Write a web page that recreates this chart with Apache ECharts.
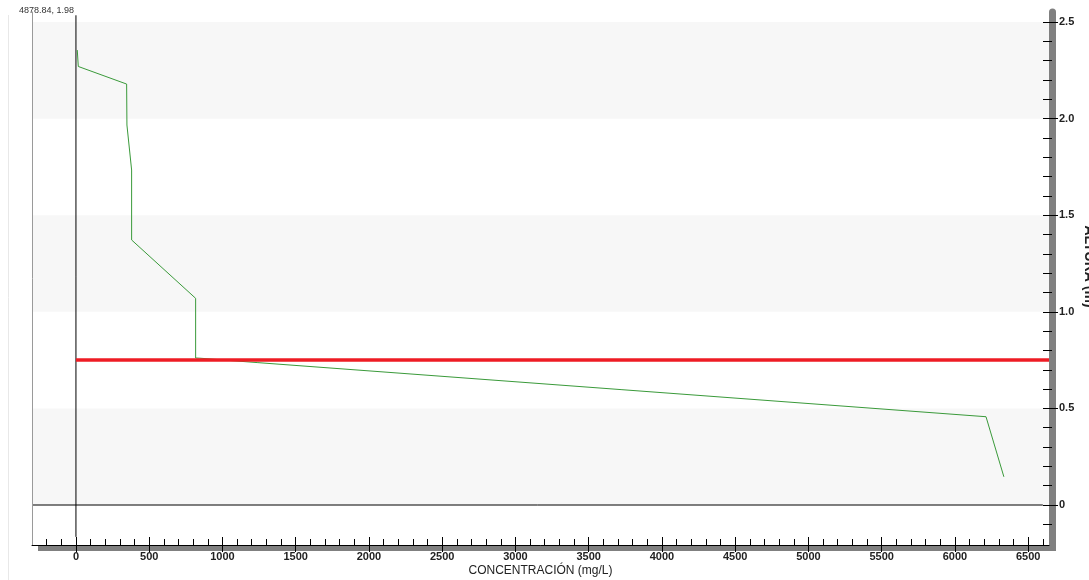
<!DOCTYPE html>
<html>
<head>
<meta charset="utf-8">
<script src="https://cdn.jsdelivr.net/npm/echarts@6/dist/echarts.min.js"></script>
<style>html,body{margin:0;padding:0;background:#fff}#c{width:1089px;height:580px}</style>
</head>
<body>
<div id="c"></div>
<script>
// Green concentration profile (x: mg/L, y: height m)
var concentracion = [9, 16, 346, 348, 380, 380, 817, 817, 846, 1242, 6212, 6334];
var altura        = [2.355, 2.27, 2.179, 1.967, 1.734, 1.372, 1.07, 0.761, 0.760, 0.737, 0.457, 0.146];
// Red level line
var nivelX = [0, 6642];
var nivelY = 0.75;
// Reference lines at zero
var ceroVerticalY = [-0.165, 2.535];
var ceroHorizontalX = [-300, 6600];
// Axis ranges and ticks
var xMin = -300, xMax = 6642;
var yMin = -0.207, yMax = 2.552;
var xTickLabels = [0, 500, 1000, 1500, 2000, 2500, 3000, 3500, 4000, 4500, 5000, 5500, 6000, 6500];
var yTickLabels = [0, 0.5, 1.0, 1.5, 2.0, 2.5];
var bandas = [[0, 0.5], [1.0, 1.5], [2.0, 2.5]];
var cursorText = '4878.84, 1.98';

var xMinor = [];
for (var v = -200; v <= 6600; v += 100) xMinor.push(v);
var yMinor = [];
for (var i = -1; i <= 25; i++) yMinor.push(+(i / 10).toFixed(1));

var FONT = '"Liberation Sans Narrow", "Liberation Sans", Arial, sans-serif';

var greenData = concentracion.map(function (c, k) { return [c, altura[k]]; });

var chart = echarts.init(document.getElementById('c'));
chart.setOption({
  animation: false,
  backgroundColor: '#ffffff',
  title: {
    text: cursorText, left: 14, top: 1,
    textStyle: { fontSize: 9, fontWeight: 'normal', color: '#333', fontFamily: 'Arial, "Liberation Sans", sans-serif' }
  },
  grid: { left: 32, right: 40, top: 12, bottom: 35, containLabel: false, outerBoundsMode: 'none' },
  graphic: [
    { type: 'rect', z: 1, shape: { x: 38, y: 545, width: 1018, height: 6 }, style: { fill: '#808080' } },
    { type: 'line', z: 1, shape: { x1: 8.5, y1: 15, x2: 8.5, y2: 580 }, style: { stroke: '#e8e8e8', lineWidth: 1 } }
  ],
  xAxis: [
    {
      type: 'value', min: xMin, max: xMax, position: 'bottom', z: 5,
      name: 'CONCENTRACIÓN (mg/L)', nameLocation: 'middle', nameGap: 20, nameMoveOverlap: false,
      nameTextStyle: { fontSize: 12, color: '#222', fontFamily: FONT },
      splitLine: { show: false },
      axisLine: { show: true, onZero: false, lineStyle: { color: '#000', width: 1 } },
      axisTick: { show: true, inside: false, length: 7, customValues: xTickLabels, lineStyle: { color: '#000' } },
      axisLabel: {
        customValues: xTickLabels, margin: 6, fontSize: 11, fontWeight: 'bold', color: '#222', fontFamily: FONT,
        formatter: function (v) { return String(v); }
      }
    },
    {
      type: 'value', min: xMin, max: xMax, position: 'bottom', z: 5,
      splitLine: { show: false },
      axisLine: { show: false, onZero: false },
      axisTick: { show: true, inside: true, length: 6, customValues: xMinor, lineStyle: { color: '#000' } },
      axisLabel: { show: false }
    },
    {
      type: 'value', min: xMin, max: xMax, position: 'bottom', z: 5,
      splitLine: { show: false },
      axisLine: { show: false, onZero: false },
      axisTick: { show: true, inside: true, length: 8, customValues: xTickLabels, lineStyle: { color: '#000' } },
      axisLabel: { show: false }
    }
  ],
  yAxis: [
    {
      type: 'value', min: yMin, max: yMax, position: 'right', offset: 3, z: 5,
      name: 'ALTURA (m)', nameLocation: 'middle', nameGap: 30, nameRotate: -90, nameMoveOverlap: false,
      nameTextStyle: { fontSize: 14, fontWeight: 'bold', color: '#222', fontFamily: FONT, padding: [0, 24, 0, 0] },
      splitLine: { show: false },
      axisLine: { show: true, onZero: false, lineStyle: { color: '#808080', width: 7 } },
      axisTick: { show: true, inside: false, length: 6, customValues: yTickLabels, lineStyle: { color: '#000' } },
      axisLabel: {
        customValues: yTickLabels, margin: 7, fontSize: 11, fontWeight: 'bold', color: '#222', fontFamily: FONT,
        formatter: function (v) { return v === 0 ? '0' : v.toFixed(1); }
      }
    },
    {
      type: 'value', min: yMin, max: yMax, position: 'right', offset: 3, z: 5,
      splitLine: { show: false },
      axisLine: { show: false, onZero: false },
      axisTick: { show: true, inside: true, length: 9, customValues: yMinor, lineStyle: { color: '#000' } },
      axisLabel: { show: false }
    },
    {
      type: 'value', min: yMin, max: yMax, position: 'left', z: 5,
      splitLine: { show: false },
      axisLine: { show: true, onZero: false, lineStyle: { color: '#9a9a9a', width: 1 } },
      axisTick: { show: false },
      axisLabel: { show: false }
    }
  ],
  series: [
    {
      type: 'line', silent: true, data: [], xAxisIndex: 0, yAxisIndex: 0,
      markArea: {
        silent: true,
        itemStyle: { color: '#f7f7f7' },
        data: bandas.map(function (b) { return [{ yAxis: b[0] }, { yAxis: b[1] }]; })
      }
    },
    {
      type: 'line', silent: true, symbol: 'none', xAxisIndex: 0, yAxisIndex: 0,
      lineStyle: { color: '#000', width: 1 },
      data: [[0, ceroVerticalY[0]], [0, ceroVerticalY[1]]]
    },
    {
      type: 'line', silent: true, symbol: 'none', xAxisIndex: 0, yAxisIndex: 0,
      lineStyle: { color: '#000', width: 1 },
      data: [[ceroHorizontalX[0], 0], [ceroHorizontalX[1], 0]]
    },
    {
      type: 'line', silent: true, symbol: 'none', xAxisIndex: 0, yAxisIndex: 0,
      lineStyle: { color: '#3a9a3a', width: 1 },
      data: greenData
    },
    {
      type: 'line', silent: true, symbol: 'none', xAxisIndex: 0, yAxisIndex: 0,
      lineStyle: { color: '#ee1c24', width: 3.5 },
      data: [[nivelX[0], nivelY], [nivelX[1], nivelY]]
    }
  ]
});
</script>
</body>
</html>
